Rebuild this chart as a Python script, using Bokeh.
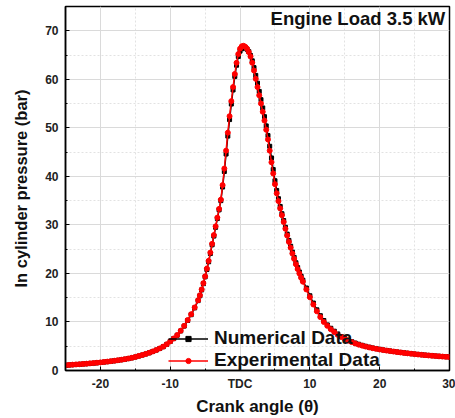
from bokeh.plotting import figure
from bokeh.models import FixedTicker, Legend, LegendItem, Label, Range1d
from bokeh.embed import file_html
from bokeh.resources import INLINE

# ---------------- data ----------------
crank_angle = [
    -25.0, -24.5, -24.0, -23.5, -23.0, -22.5, -22.0, -21.5, -21.0, -20.5,
    -20.0, -19.5, -19.0, -18.5, -18.0, -17.5, -17.0, -16.5, -16.0, -15.5,
    -15.0, -14.5, -14.0, -13.5, -13.0, -12.5, -12.0, -11.5, -11.0, -10.5,
    -10.0, -9.5, -9.0, -8.5, -8.0, -7.5, -7.0, -6.5,
    -6.00, -5.75, -5.50, -5.25, -5.00, -4.75, -4.50, -4.25, -4.00, -3.75,
    -3.50, -3.25, -3.00, -2.75, -2.50, -2.25, -2.00, -1.75, -1.50, -1.25,
    -1.00, -0.75, -0.50, -0.25, 0.00, 0.25, 0.50, 0.75, 1.00, 1.25,
    1.50, 1.75, 2.00, 2.25, 2.50, 2.75, 3.00, 3.25, 3.50, 3.75,
    4.00, 4.25, 4.50, 4.75, 5.00, 5.25, 5.50, 5.75, 6.00, 6.25,
    6.50, 6.75, 7.00, 7.25, 7.50, 7.75, 8.00, 8.25, 8.50, 8.75, 9.00,
    9.5, 10.0, 10.5, 11.0, 11.5, 12.0, 12.5, 13.0, 13.5, 14.0,
    14.5, 15.0, 15.5, 16.0, 16.5, 17.0, 17.5, 18.0, 18.5, 19.0,
    19.5, 20.0, 20.5, 21.0, 21.5, 22.0, 22.5, 23.0, 23.5, 24.0,
    24.5, 25.0, 25.5, 26.0, 26.5, 27.0, 27.5, 28.0, 28.5, 29.0,
    29.5, 30.0,
]

pressure_experimental = [
    1.10, 1.15, 1.20, 1.25, 1.30, 1.35, 1.40, 1.47, 1.53, 1.60,
    1.67, 1.75, 1.83, 1.92, 2.01, 2.11, 2.22, 2.34, 2.47, 2.62,
    2.80, 3.00, 3.20, 3.42, 3.66, 3.93, 4.22, 4.55, 4.92, 5.40,
    6.00, 6.60, 7.30, 8.20, 9.20, 10.4, 11.6, 13.0,
    14.5, 15.5, 16.7, 18.0, 19.4, 21.0, 22.6, 24.3, 26.1, 27.9,
    29.7, 31.5, 33.3, 35.2, 38.2, 41.6, 45.3, 49.0, 52.4, 55.5,
    58.4, 61.1, 63.4, 65.2, 66.3, 66.8, 66.9, 66.7, 66.3, 65.6,
    64.7, 63.4, 61.8, 60.1, 58.4, 56.7, 55.0, 53.3, 51.5, 49.6,
    47.6, 45.3, 42.9, 40.6, 38.4, 36.5, 34.9, 33.4, 32.0, 30.6,
    29.2, 27.8, 26.5, 25.3, 24.1, 23.0, 21.9, 20.9, 20.0, 19.1, 18.3,
    16.7, 15.1, 13.6, 12.2, 11.0, 10.0, 9.2, 8.5, 7.9, 7.35,
    6.9, 6.5, 6.15, 5.85, 5.58, 5.33, 5.12, 4.93, 4.76, 4.60,
    4.46, 4.33, 4.21, 4.10, 4.00, 3.90, 3.80, 3.71, 3.62, 3.54,
    3.46, 3.38, 3.30, 3.23, 3.16, 3.10, 3.04, 2.98, 2.92, 2.87,
    2.82, 2.77,
]

pressure_numerical = [
    1.08, 1.13, 1.18, 1.23, 1.28, 1.33, 1.38, 1.45, 1.51, 1.58,
    1.65, 1.73, 1.81, 1.90, 1.99, 2.09, 2.20, 2.32, 2.45, 2.60,
    2.78, 2.98, 3.18, 3.40, 3.64, 3.91, 4.20, 4.53, 4.90, 5.38,
    5.97, 6.57, 7.26, 8.15, 9.15, 10.3, 11.5, 12.9,
    14.4, 15.4, 16.6, 17.9, 19.3, 20.8, 22.4, 24.1, 25.9, 27.7,
    29.5, 31.3, 33.1, 35.0, 37.8, 41.0, 44.6, 48.3, 51.7, 54.9,
    57.8, 60.6, 62.9, 64.7, 65.8, 66.3, 66.5, 66.5, 66.2, 65.7,
    64.9, 63.8, 62.4, 60.8, 59.2, 57.5, 55.8, 54.1, 52.3, 50.4,
    48.4, 46.2, 43.8, 41.4, 39.1, 37.1, 35.4, 33.8, 32.3, 30.9,
    29.5, 28.1, 26.8, 25.6, 24.4, 23.3, 22.2, 21.2, 20.3, 19.4, 18.6,
    17.0, 15.4, 13.9, 12.5, 11.3, 10.3, 9.4, 8.7, 8.1, 7.5,
    7.0, 6.6, 6.25, 5.93, 5.65, 5.40, 5.18, 4.98, 4.80, 4.64,
    4.50, 4.36, 4.24, 4.13, 4.02, 3.92, 3.82, 3.73, 3.64, 3.55,
    3.47, 3.39, 3.31, 3.24, 3.17, 3.11, 3.05, 2.99, 2.93, 2.88,
    2.83, 2.78,
]

x_ticks = [-20, -10, 0, 10, 20, 30]
x_tick_labels = ["-20", "-10", "TDC", "10", "20", "30"]
x_minor_ticks = [-25, -15, -5, 5, 15, 25]
y_ticks = [0, 10, 20, 30, 40, 50, 60, 70]
y_minor_ticks = [5, 15, 25, 35, 45, 55, 65, 75]

series_names = ["Numerical Data", "Experimental Data"]
title_text = "Engine Load 3.5 kW"
x_label = "Crank angle (\u03b8)"
y_label = "In cylinder pressure (bar)"

FONT = "Liberation Sans"

# ---------------- figure ----------------
p = figure(width=455, height=418,
           x_range=Range1d(-25, 30), y_range=Range1d(0, 75),
           output_backend="svg", toolbar_location=None,
           min_border_left=65, min_border_right=6,
           min_border_top=6, min_border_bottom=47)
p.background_fill_color = "white"
p.border_fill_color = "white"
p.outline_line_color = "black"
p.outline_line_width = 1.5

xt = FixedTicker(ticks=x_ticks, minor_ticks=x_minor_ticks)
yt = FixedTicker(ticks=y_ticks, minor_ticks=y_minor_ticks)
p.xaxis.ticker = xt
p.yaxis.ticker = yt
p.xgrid.ticker = xt
p.ygrid.ticker = yt
p.xaxis.major_label_overrides = dict(zip(x_ticks, x_tick_labels))

for g in (p.xgrid, p.ygrid):
    g.grid_line_color = "#dadada"
    g.grid_line_width = 1
    g.minor_grid_line_color = "#e2e2e2"
    g.minor_grid_line_dash = "2 2"
    g.minor_grid_line_width = 1

for ax in (p.xaxis, p.yaxis):
    ax.axis_line_color = "black"
    ax.axis_line_width = 1.5
    ax.major_tick_in = 4
    ax.major_tick_out = 0
    ax.minor_tick_in = 2
    ax.minor_tick_out = 0
    ax.major_tick_line_color = "black"
    ax.minor_tick_line_color = "black"
    ax.major_label_text_font = FONT
    ax.major_label_text_font_style = "bold"
    ax.major_label_text_font_size = "12px"
    ax.major_label_text_color = "#222222"
    ax.axis_label_text_font = FONT
    ax.axis_label_text_font_style = "bold"
    ax.axis_label_text_font_size = "17px"
    ax.axis_label_text_color = "#111111"

p.yaxis.axis_label_text_font_size = "16.5px"
p.xaxis.axis_label = x_label
p.yaxis.axis_label = y_label
p.xaxis.major_label_standoff = 6
p.yaxis.major_label_standoff = 7
p.xaxis.axis_label_standoff = 3
p.yaxis.axis_label_standoff = 12

# numerical (black squares)
ln = p.line(crank_angle, pressure_numerical, line_color="black", line_width=1.5)
sn = p.scatter(crank_angle, pressure_numerical, marker="square", size=4,
               fill_color="black", line_color="black")
# experimental (red circles)
le = p.line(crank_angle, pressure_experimental, line_color="#ff0000", line_width=1.5)
se = p.scatter(crank_angle, pressure_experimental, marker="circle", size=5,
               fill_color="#ff0000", line_color="#ff0000")

legend = Legend(items=[LegendItem(label=series_names[0], renderers=[ln, sn]),
                       LegendItem(label=series_names[1], renderers=[le, se])],
                location=(103, -1))
legend.background_fill_alpha = 0
legend.border_line_alpha = 0
legend.padding = 0
legend.margin = 0
legend.spacing = 0
legend.glyph_width = 40
legend.glyph_height = 13
legend.label_height = 22
legend.label_standoff = 6
legend.label_text_font = FONT
legend.label_text_font_style = "bold"
legend.label_text_font_size = "19px"
legend.label_text_color = "#111111"
p.add_layout(legend)

p.add_layout(Label(x=29.4, y=72.6, text=title_text, text_align="right",
                   text_baseline="middle", text_font=FONT,
                   text_font_style="bold", text_font_size="18.5px",
                   text_color="#111111"))

open("out.html", "w").write(file_html(p, INLINE))
